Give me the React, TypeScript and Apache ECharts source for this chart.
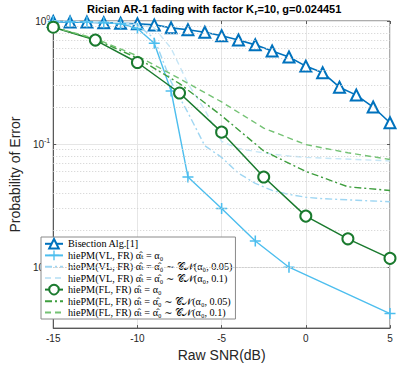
import React, { useEffect, useRef } from "react";
import * as echarts from "echarts";

const snr1 = [-15, -14, -13, -12, -11, -10, -9, -8, -7, -6, -5, -4, -3, -2, -1, 0, 1, 2, 3, 4, 5];
const bisection = [0.99, 0.98, 0.98, 0.97, 0.96, 0.95, 0.93, 0.88, 0.85, 0.81, 0.76, 0.7, 0.64, 0.57, 0.51, 0.43, 0.38, 0.29, 0.25, 0.2, 0.149];

const snrVL = [-15, -14, -13, -12, -11, -10, -9, -8, -7, -5, -3, -1, 5];
const vlExact = [0.99, 0.985, 0.98, 0.97, 0.95, 0.87, 0.66, 0.27, 0.054, 0.03, 0.0163, 0.01, 0.0042];
const vl005 = [1.0, 0.99, 0.985, 0.975, 0.96, 0.93, 0.72, 0.32, 0.18, 0.097, 0.078, 0.058, 0.048, 0.042, 0.039, 0.037, 0.036, 0.0355, 0.035, 0.0345, 0.034];
const vl01 = [1.0, 0.995, 0.99, 0.98, 0.97, 0.94, 0.88, 0.6, 0.31, 0.19, 0.105, 0.092, 0.087, 0.083, 0.08, 0.078, 0.077, 0.076, 0.075, 0.074, 0.073];

const snrFL = [-15, -12.5, -10, -7.5, -5, -2.5, 0, 2.5, 5];
const flExact = [0.89, 0.7, 0.46, 0.26, 0.125, 0.054, 0.026, 0.017, 0.0118];
const fl005 = [0.89, 0.71, 0.5, 0.31, 0.17, 0.088, 0.06, 0.045, 0.042];
const fl01 = [0.89, 0.72, 0.52, 0.34, 0.22, 0.135, 0.099, 0.085, 0.075];

const minorGrid = [0.004, 0.005, 0.006, 0.007, 0.008, 0.009, 0.02, 0.03, 0.04, 0.05, 0.06, 0.07, 0.08, 0.09, 0.2, 0.3, 0.4, 0.5, 0.6, 0.7, 0.8, 0.9];

const names = [
  "Bisection Alg.[1]",
  "hiePM(VL, FR) α̂ₜ = α₀",
  "hiePM(VL, FR) α̂ₜ = α̂₀ ∼ 𝒞𝒩(α₀, 0.05)",
  "hiePM(VL, FR) α̂ₜ = α̂₀ ∼ 𝒞𝒩(α₀, 0.1)",
  "hiePM(FL, FR) α̂ₜ = α₀",
  "hiePM(FL, FR) α̂ₜ = α̂₀ ∼ 𝒞𝒩(α₀, 0.05)",
  "hiePM(FL, FR) α̂ₜ = α̂₀ ∼ 𝒞𝒩(α₀, 0.1)",
];
const noMarker = [false, false, true, true, false, true, true];

const pair = (xs: number[], ys: number[]) => xs.map((x, i) => [x, ys[i]]);

const PLUS = "path://M4.3,0H5.7V4.3H10V5.7H5.7V10H4.3V5.7H0V4.3H4.3Z";
const SANS = "'Liberation Sans', Arial, Helvetica, sans-serif";
const SERIF = "'Liberation Serif', 'DejaVu Serif', serif";
const AX = "#5a5a5a";

export default function App() {
  const ref = useRef<HTMLDivElement>(null);
  useEffect(() => {
    if (!ref.current) return;
    const chart = echarts.init(ref.current, null, { renderer: "svg" });
    const logLabel = (v: number) => {
      const l = Math.log10(v);
      const r = Math.round(l);
      if (Math.abs(l - r) > 1e-6) return "";
      return `{b|10}{s|${r}}`;
    };
    const yBase = {
      type: "log",
      logBase: 10,
      min: 0.0032,
      max: 1,
      splitNumber: 3,
    };
    chart.setOption({
      animation: false,
      backgroundColor: "#ffffff",
      title: {
        text: "{a|Rician AR-1 fading with factor K}{s|r}{a|=10, g=0.024451}",
        left: 87,
        top: 1,
        padding: 0,
        textStyle: {
          rich: {
            a: { fontFamily: SANS, fontWeight: "bold", fontSize: 11, color: "#000" },
            s: { fontFamily: SANS, fontWeight: "bold", fontSize: 8, color: "#000", padding: [7, 0, 0, 0] },
          },
        },
      },
      grid: {
        left: 41,
        right: 9,
        top: 21,
        bottom: 38,
        show: true,
        borderColor: AX,
        borderWidth: 1,
      },
      legend: {
        orient: "vertical",
        left: 41,
        top: 237,
        itemWidth: 18,
        itemHeight: 12,
        itemGap: 0.3,
        padding: [1, 3, 1, 3],
        backgroundColor: "#ffffff",
        borderColor: "#8a8a8a",
        borderWidth: 1,
        selectedMode: false,
        data: names.map((n, i) =>
          noMarker[i] ? { name: n, itemStyle: { opacity: 0 } } : { name: n }
        ),
        textStyle: { fontFamily: SERIF, fontSize: 10.2, color: "#000", lineHeight: 11 },
      },
      xAxis: [
        {
          type: "value",
          min: -15,
          max: 5,
          interval: 5,
          name: "Raw SNR(dB)",
          nameLocation: "middle",
          nameGap: 19,
          nameTextStyle: { fontFamily: SANS, fontSize: 14, color: "#262626" },
          axisLine: { show: true, onZero: false, lineStyle: { color: AX } },
          axisTick: { show: true, inside: true, length: 3, lineStyle: { color: AX } },
          axisLabel: { fontFamily: SANS, fontSize: 10, color: "#262626", margin: 5 },
          splitLine: { show: true, lineStyle: { color: "#e6e6e6", width: 1 } },
        },
        {
          type: "value",
          position: "top",
          min: -15,
          max: 5,
          interval: 5,
          axisLine: { show: false, onZero: false },
          axisTick: { show: true, inside: true, length: 3, lineStyle: { color: AX } },
          axisLabel: { show: false },
          splitLine: { show: false },
        },
      ],
      yAxis: [
        {
          ...yBase,
          name: "Probability of Error",
          nameLocation: "middle",
          nameGap: 23,
          nameTextStyle: { fontFamily: SANS, fontSize: 14, color: "#262626" },
          axisLine: { show: true, onZero: false, lineStyle: { color: AX } },
          axisTick: { show: true, inside: true, length: 3, lineStyle: { color: AX } },
          axisLabel: {
            formatter: logLabel,
            margin: 3,
            rich: {
              b: { fontFamily: SANS, fontSize: 10, color: "#262626" },
              s: { fontFamily: SANS, fontSize: 7, color: "#262626", padding: [0, 0, 7, 0] },
            },
          },
          splitLine: { show: true, lineStyle: { color: "#e6e6e6", width: 1 } },
        },
        {
          ...yBase,
          position: "right",
          axisLine: { show: false, onZero: false },
          axisTick: { show: true, inside: true, length: 3, lineStyle: { color: AX } },
          axisLabel: { show: false },
          splitLine: { show: false },
        },
      ],
      series: [
        {
          name: names[0],
          type: "line",
          data: pair(snr1, bisection),
          symbol: "emptyTriangle",
          symbolSize: 11,
          color: "#0072BD",
          lineStyle: { width: 1.6, color: "#0072BD" },
          itemStyle: { color: "#0072BD", borderWidth: 1.6 },
          markLine: {
            silent: true,
            symbol: "none",
            label: { show: false },
            lineStyle: { color: "#cfcfcf", type: [1, 2], width: 1 },
            data: minorGrid.map((v) => ({ yAxis: v })),
          },
          z: 3,
        },
        {
          name: names[1],
          type: "line",
          data: pair(snrVL, vlExact),
          symbol: PLUS,
          symbolSize: 11,
          color: "#4DBEEE",
          lineStyle: { width: 1.4, color: "#4DBEEE" },
          itemStyle: { color: "#4DBEEE" },
          z: 4,
        },
        {
          name: names[2],
          type: "line",
          data: pair(snr1, vl005),
          symbol: "none",
          color: "#9fd6f2",
          lineStyle: { width: 1.4, color: "#9fd6f2", type: [7, 3, 2, 3] },
          z: 4,
        },
        {
          name: names[3],
          type: "line",
          data: pair(snr1, vl01),
          symbol: "none",
          color: "#c6e6f6",
          lineStyle: { width: 1.4, color: "#c6e6f6", type: [6, 4] },
          z: 4,
        },
        {
          name: names[4],
          type: "line",
          data: pair(snrFL, flExact),
          symbol: "emptyCircle",
          symbolSize: 11,
          color: "#1a7a2e",
          lineStyle: { width: 1.5, color: "#1a7a2e" },
          itemStyle: { color: "#1a7a2e", borderWidth: 1.5 },
          z: 5,
        },
        {
          name: names[5],
          type: "line",
          data: pair(snrFL, fl005),
          symbol: "none",
          color: "#3e9e3e",
          lineStyle: { width: 1.4, color: "#3e9e3e", type: [7, 3, 2, 3] },
          z: 5,
        },
        {
          name: names[6],
          type: "line",
          data: pair(snrFL, fl01),
          symbol: "none",
          color: "#74c274",
          lineStyle: { width: 1.4, color: "#74c274", type: [6, 4] },
          z: 5,
        },
      ],
    });
    return () => chart.dispose();
  }, []);
  return (
    <div
      ref={ref}
      style={{ position: "fixed", left: 0, top: 0, width: 399, height: 367 }}
    />
  );
}
